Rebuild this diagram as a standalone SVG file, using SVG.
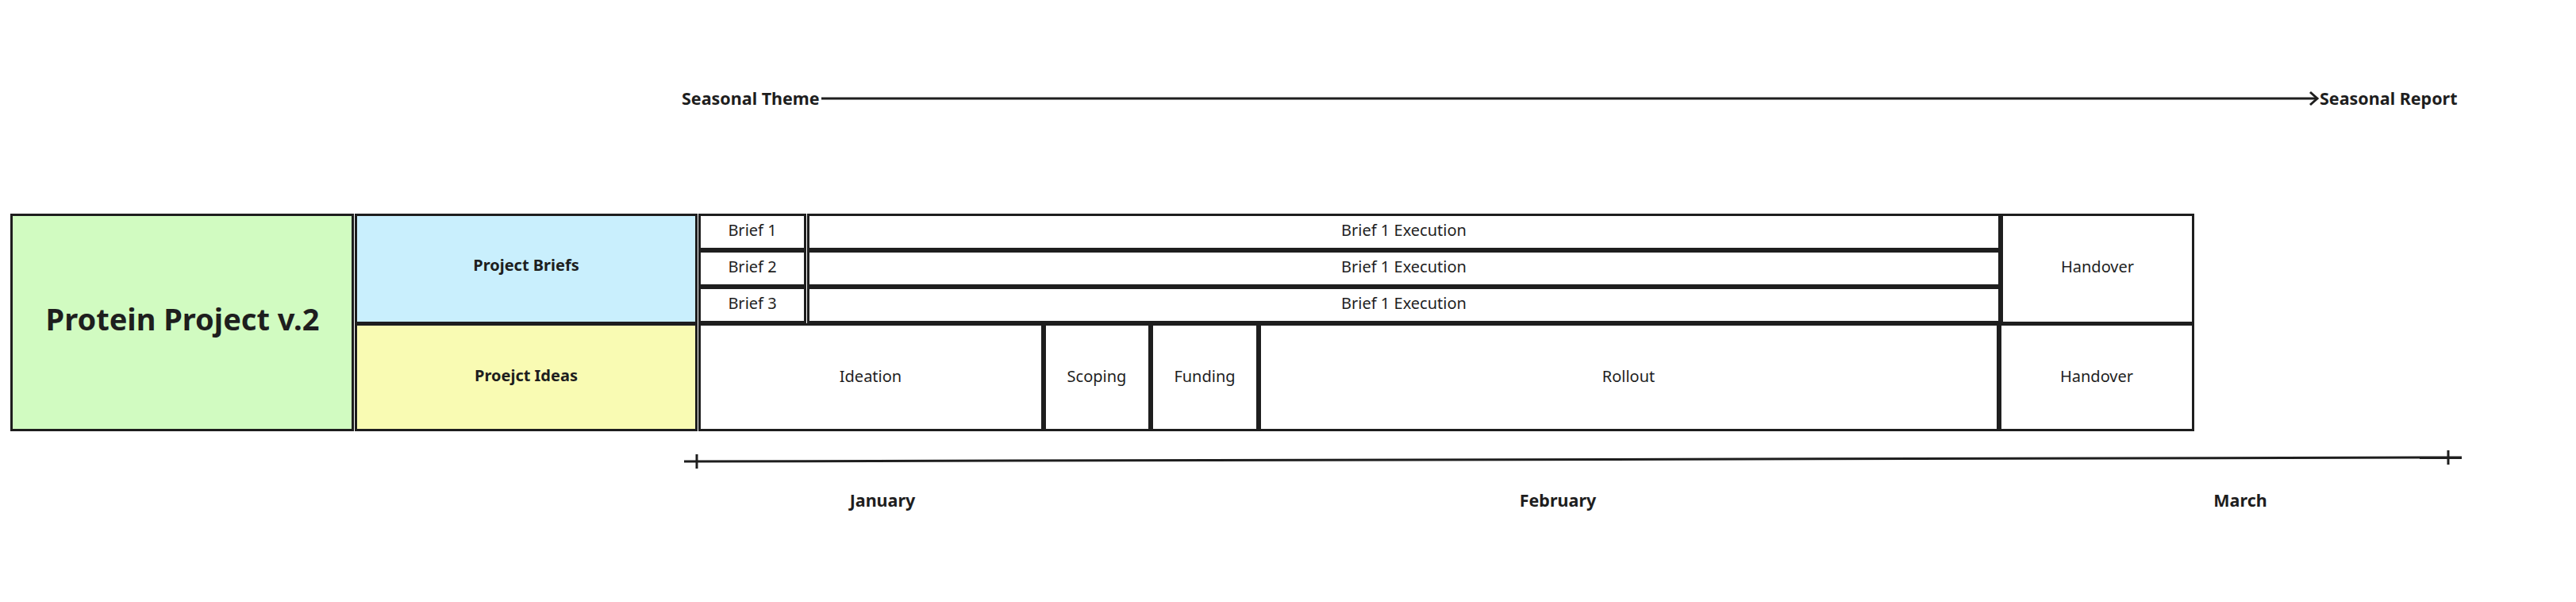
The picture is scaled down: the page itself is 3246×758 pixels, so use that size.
<svg xmlns="http://www.w3.org/2000/svg" width="3246" height="758" viewBox="0 0 3246 758">
<defs>
<style>
.box{stroke:#1e1e1e;stroke-width:3;fill:#ffffff}
.t{font-family:"Noto Sans","Open Sans",sans-serif;font-size:20px;fill:#1e1e1e;text-anchor:middle}
.b{font-family:"Noto Sans","Open Sans",sans-serif;font-weight:bold;font-size:21.5px;fill:#1e1e1e}
.ln{stroke:#1e1e1e;stroke-width:3;fill:none}
</style>
<marker id="arr" viewBox="0 0 12 20" refX="10" refY="10" markerWidth="12" markerHeight="20" markerUnits="userSpaceOnUse" orient="auto">
<path d="M1,2 L10,10 L1,18" fill="none" stroke="#1e1e1e" stroke-width="3"/>
</marker>
</defs>
<rect width="3246" height="758" fill="#ffffff"/>
<g id="protein-project">
<rect class="box" x="14.5" y="270.5" width="430" height="271" style="fill:#d1fbc1"/>
<text class="b" x="230" y="416" text-anchor="middle" style="font-size:38px">Protein Project v.2</text>
</g>
<g id="project-briefs">
<rect class="box" x="448.5" y="270.5" width="429" height="136" style="fill:#c9effd"/>
<text class="b" x="663" y="341" text-anchor="middle" style="font-size:20px">Project Briefs</text>
</g>
<g id="project-ideas">
<rect class="box" x="448.5" y="408.5" width="429" height="133" style="fill:#f9fbb3"/>
<text class="b" x="663" y="480" text-anchor="middle" style="font-size:20px">Proejct Ideas</text>
</g>
<g id="brief-1">
<rect class="box" x="881.5" y="270.5" width="133" height="43"/>
<text class="t" x="948" y="297">Brief 1</text>
</g>
<g id="brief-2">
<rect class="box" x="881.5" y="316.5" width="133" height="43"/>
<text class="t" x="948" y="343">Brief 2</text>
</g>
<g id="brief-3">
<rect class="box" x="881.5" y="362.5" width="133" height="43"/>
<text class="t" x="948" y="389">Brief 3</text>
</g>
<g id="exec-1">
<rect class="box" x="1018.5" y="270.5" width="1501" height="43"/>
<text class="t" x="1769" y="297">Brief 1 Execution</text>
</g>
<g id="exec-2">
<rect class="box" x="1018.5" y="316.5" width="1501" height="43"/>
<text class="t" x="1769" y="343">Brief 1 Execution</text>
</g>
<g id="exec-3">
<rect class="box" x="1018.5" y="362.5" width="1501" height="43"/>
<text class="t" x="1769" y="389">Brief 1 Execution</text>
</g>
<g id="handover-briefs">
<rect class="box" x="2522.5" y="270.5" width="241" height="136"/>
<text class="t" x="2643" y="343">Handover</text>
</g>
<g id="ideation">
<rect class="box" x="881.5" y="408.5" width="432" height="133"/>
<text class="t" x="1097" y="481">Ideation</text>
</g>
<g id="scoping">
<rect class="box" x="1316.5" y="408.5" width="132" height="133"/>
<text class="t" x="1382" y="481">Scoping</text>
</g>
<g id="funding">
<rect class="box" x="1451.5" y="408.5" width="133" height="133"/>
<text class="t" x="1518" y="481">Funding</text>
</g>
<g id="rollout">
<rect class="box" x="1587.5" y="408.5" width="930" height="133"/>
<text class="t" x="2052" y="481">Rollout</text>
</g>
<g id="handover-ideas">
<rect class="box" x="2520.5" y="408.5" width="243" height="133"/>
<text class="t" x="2642" y="481">Handover</text>
</g>
<g id="seasonal-theme">
<text class="b" x="859" y="132">Seasonal Theme</text>
</g>
<g id="seasonal-report">
<text class="b" x="2923" y="132">Seasonal Report</text>
</g>
<g id="months">
<text class="b" x="1112" y="638" text-anchor="middle">January</text>
<text class="b" x="1963" y="638" text-anchor="middle">February</text>
<text class="b" x="2823" y="638" text-anchor="middle">March</text>
</g>
<g id="connectors">
<line class="ln" x1="1035" y1="124" x2="2920" y2="124" marker-end="url(#arr)"/>
<line class="ln" x1="862" y1="581" x2="3102" y2="576"/>
<line class="ln" x1="878" y1="572" x2="878" y2="590"/>
<line class="ln" x1="3085" y1="567" x2="3085" y2="585"/>
</g>
</svg>
